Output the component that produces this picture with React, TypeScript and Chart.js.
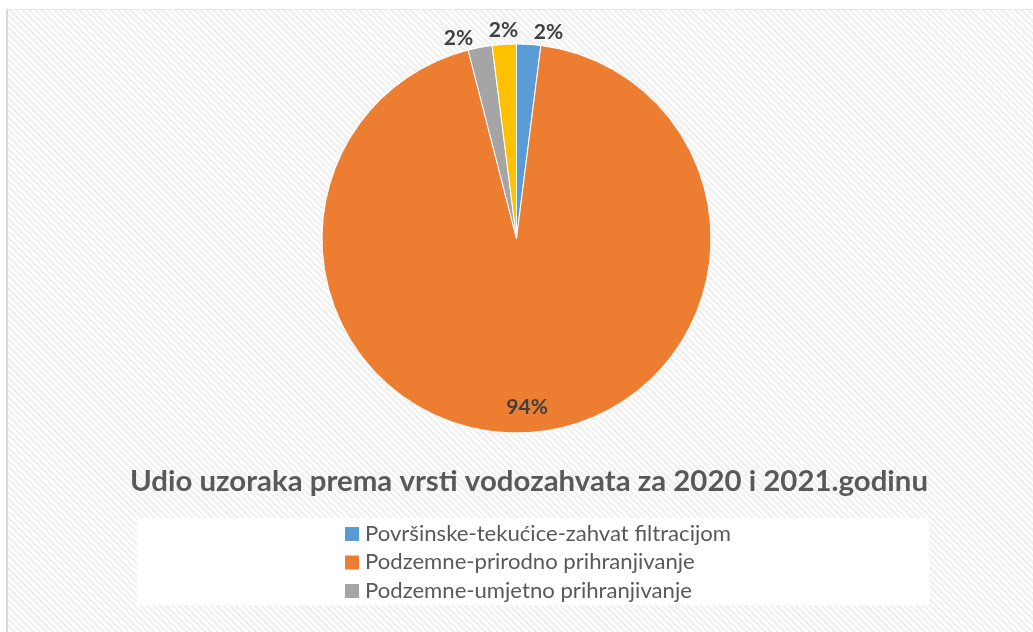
import React, { useEffect, useRef } from "react";
import { Chart, registerables } from "chart.js";

Chart.register(...registerables);

// ---- data ----
const categories = [
  "Površinske-tekućice-zahvat filtracijom",
  "Podzemne-prirodno prihranjivanje",
  "Podzemne-umjetno prihranjivanje",
  "Površinske-akumulacije",
];
const shares = [2, 94, 2, 2];
const sliceColors = ["#5B9BD5", "#ED7D31", "#A5A5A5", "#FFC000"];
const legendVisibleCount = 3;
const chartTitle = "Udio uzoraka prema vrsti vodozahvata za 2020 i 2021.godinu";

const W = 1033;
const H = 632;

function drawFitted(ctx: CanvasRenderingContext2D, text: string, x: number, y: number, sx: number) {
  ctx.save();
  ctx.translate(x, y);
  ctx.scale(sx, 1);
  ctx.fillText(text, 0, 0);
  ctx.restore();
}

const overlayPlugin = {
  id: "overlay",
  afterDatasetsDraw(chart: any) {
    const ctx: CanvasRenderingContext2D = chart.ctx;
    const meta = chart.getDatasetMeta(0);
    const total = shares.reduce((a, b) => a + b, 0);
    const outside: any[] = [];

    ctx.save();
    ctx.font = "bold 21px Lato";
    ctx.fillStyle = "#404040";
    ctx.textAlign = "center";
    ctx.textBaseline = "middle";
    meta.data.forEach((arc: any, i: number) => {
      const p = arc.getProps(["x", "y", "startAngle", "endAngle", "outerRadius"], true);
      const mid = (p.startAngle + p.endAngle) / 2;
      const txt = Math.round((shares[i] / total) * 100) + "%";
      if (shares[i] / total > 0.1) {
        const d = p.outerRadius * 0.87;
        ctx.fillText(txt, p.x + Math.cos(mid) * d, p.y + Math.sin(mid) * d);
      } else {
        const d = p.outerRadius + 14;
        outside.push({
          txt,
          x: p.x + Math.cos(mid) * d,
          sgn: Math.sin(mid) < 0 ? -1 : 1,
          cx: p.x,
          cy: p.y,
          d,
        });
      }
    });
    // spread crowded outside labels apart
    outside.sort((a, b) => a.x - b.x);
    const gap = 45;
    const mean = outside.reduce((s, o) => s + o.x, 0) / Math.max(1, outside.length);
    outside.forEach((o, k) => {
      const nx = mean + (k - (outside.length - 1) / 2) * gap;
      const dx = nx - o.cx;
      const ny = o.cy + o.sgn * Math.sqrt(Math.max(0, o.d * o.d - dx * dx));
      ctx.fillText(o.txt, nx, ny);
    });
    ctx.restore();

    // ---- title ----
    ctx.save();
    ctx.font = "bold 29px Lato";
    ctx.fillStyle = "#595959";
    ctx.textAlign = "left";
    ctx.textBaseline = "alphabetic";
    const tw = ctx.measureText(chartTitle).width;
    const tsx = 798 / tw;
    drawFitted(ctx, chartTitle, 130, 491, tsx);
    ctx.restore();

    // ---- legend ----
    ctx.save();
    ctx.fillStyle = "#ffffff";
    ctx.fillRect(137, 518, 792, 87);
    ctx.font = "21px Lato";
    ctx.textAlign = "left";
    ctx.textBaseline = "alphabetic";
    const lw = ctx.measureText(categories[0]).width;
    const lsx = 366 / lw;
    for (let i = 0; i < legendVisibleCount; i++) {
      const rowTop = 527 + i * 28.5;
      ctx.fillStyle = sliceColors[i];
      ctx.fillRect(345, rowTop, 14, 14);
      ctx.fillStyle = "#595959";
      drawFitted(ctx, categories[i], 365, rowTop + 13.5, lsx);
    }
    ctx.restore();
  },
};

export default function App() {
  const ref = useRef<HTMLCanvasElement | null>(null);

  useEffect(() => {
    if (!ref.current) return;
    const chart = new Chart(ref.current, {
      type: "pie",
      data: {
        labels: categories,
        datasets: [
          {
            data: shares,
            backgroundColor: sliceColors,
            borderColor: "#ffffff",
            borderWidth: 1,
          },
        ],
      },
      options: {
        responsive: false,
        animation: false,
        layout: { padding: { top: 43.5, bottom: 198.5, left: 0, right: 0 } },
        plugins: {
          legend: { display: false },
          title: { display: false },
          tooltip: { enabled: false },
        },
      },
      plugins: [overlayPlugin],
    });
    return () => chart.destroy();
  }, []);

  return (
    <div style={{ position: "fixed", left: 0, top: 0, width: W, height: H, overflow: "hidden", background: "#ffffff" }}>
      <div
        style={{
          position: "absolute",
          left: 6,
          top: 9,
          width: W + 20,
          height: H + 20,
          borderLeft: "2px solid #d9d9d9",
          borderTop: "1px solid #e6e6e6",
          background:
            "repeating-linear-gradient(45deg, #ffffff 0px, #ffffff 2px, #f1f1f1 2px, #f1f1f1 4.5px)",
        }}
      />
      <canvas ref={ref} width={W} height={H} style={{ position: "absolute", left: 0, top: 0 }} />
    </div>
  );
}
